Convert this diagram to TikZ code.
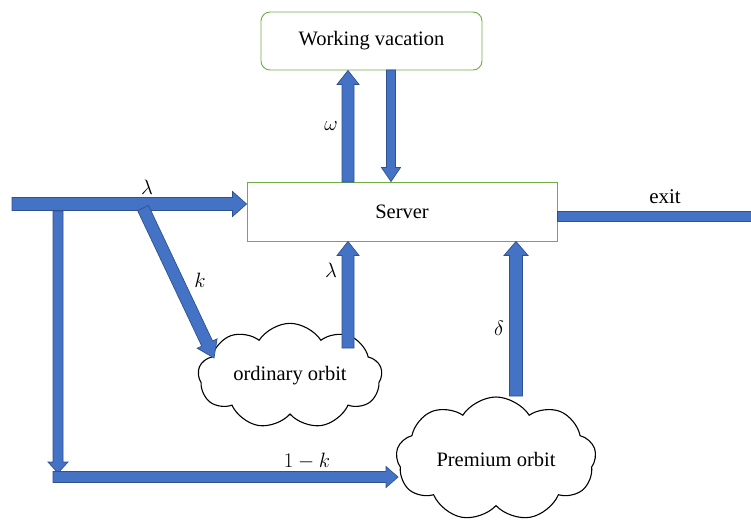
\documentclass[tikz,border=0pt]{standalone}
\usepackage{fontspec}
\setmainfont{Liberation Serif}
\usetikzlibrary{calc,shapes.symbols}
\definecolor{afill}{HTML}{4472C4}
\definecolor{aline}{HTML}{2F528F}
\definecolor{bgreen}{HTML}{70AD47}
\tikzset{
  arrowstyle/.style={fill=afill, draw=aline, line width=0.7pt, line join=miter},
  box/.style={draw=bgreen, line width=0.9pt, fill=white, font=\fontsize{20.5}{24}\selectfont},
  orbit/.style={cloud, draw=black, line width=1.1pt, fill=white, cloud puffs=9, cloud puff arc=115, aspect=2, font=\fontsize{20.5}{24}\selectfont, inner sep=0pt},
  lbl/.style={font=\fontsize{21}{24}\selectfont, inner sep=0pt}
}
% #1 from, #2 to, #3 half shaft, #4 half head, #5 head length
\newcommand\barrow[5]{%
  \coordinate (bah) at ($(#2)!#5pt!(#1)$);
  \filldraw[arrowstyle] ($(#1)!#3pt!90:(#2)$) -- ($(bah)!#3pt!-90:(#1)$) -- ($(bah)!#4pt!-90:(#1)$) -- (#2) -- ($(bah)!#4pt!90:(#1)$) -- ($(bah)!#3pt!90:(#1)$) -- ($(#1)!#3pt!-90:(#2)$) -- cycle;}
\newcommand\bbar[3]{%
  \filldraw[arrowstyle] ($(#1)!#3pt!90:(#2)$) -- ($(#2)!#3pt!-90:(#1)$) -- ($(#2)!#3pt!90:(#1)$) -- ($(#1)!#3pt!-90:(#2)$) -- cycle;}
\begin{document}
\begin{tikzpicture}[x=1pt,y=-1pt]
\useasboundingbox (0,0) rectangle (751,524);
% boxes
\node[box, rounded corners=9pt, minimum width=221pt, minimum height=58pt] (wv) at (371.5,41) {Working vacation};
\node[box, minimum width=310pt, minimum height=59pt] (srv) at (402,211.5) {Server};
% clouds
\node[orbit, minimum width=184pt, minimum height=94pt] (ord) at (290,376) {ordinary orbit};
\node[orbit, minimum width=200pt, minimum height=124pt] (prem) at (496,459) {Premium orbit};
% coordinates
\coordinate (in) at (12,204);
\coordinate (inE) at (srv.west |- in);
\coordinate (k0) at (143,208);
\coordinate (k1) at (214,358);
\coordinate (v0) at (58,211);
\coordinate (v1) at (58,473);
\coordinate (h0) at (53,477);
\coordinate (h1) at (398,477);
\coordinate (l0) at (348,348);
\coordinate (l1) at (l0 |- srv.south);
\coordinate (w0) at (348,182);
\coordinate (w1) at (w0 |- wv.south);
\coordinate (r0) at (391,70);
\coordinate (r1) at (r0 |- srv.north);
\coordinate (d0) at (516,396);
\coordinate (d1) at (d0 |- srv.south);
\coordinate (e0) at (557,216);
\coordinate (e1) at (751,216);
% arrows
\barrow{in}{inE}{6.5}{12.5}{14}
\barrow{k0}{k1}{6}{11}{16}
\barrow{v0}{v1}{5}{10}{11}
\barrow{h0}{h1}{5.5}{10.5}{12}
\barrow{l0}{l1}{6}{11}{14}
\barrow{w0}{w1}{6}{11}{14}
\barrow{r0}{r1}{4.5}{9.5}{14}
\barrow{d0}{d1}{6.5}{12}{14}
\bbar{e0}{e1}{5}
% labels
\node[lbl] (lam1) at (147,187) {$\lambda$};
\node[lbl] (kl) at (200,280) {$k$};
\node[lbl] (lam2) at (331,270) {$\lambda$};
\node[lbl] (om) at (331,126) {$\omega$};
\node[lbl] (de) at (499,328) {$\delta$};
\node[lbl] (ex) at (665,197) {exit};
\node[lbl] (omk) at (307,461) {$1-k$};
\end{tikzpicture}
\end{document}
